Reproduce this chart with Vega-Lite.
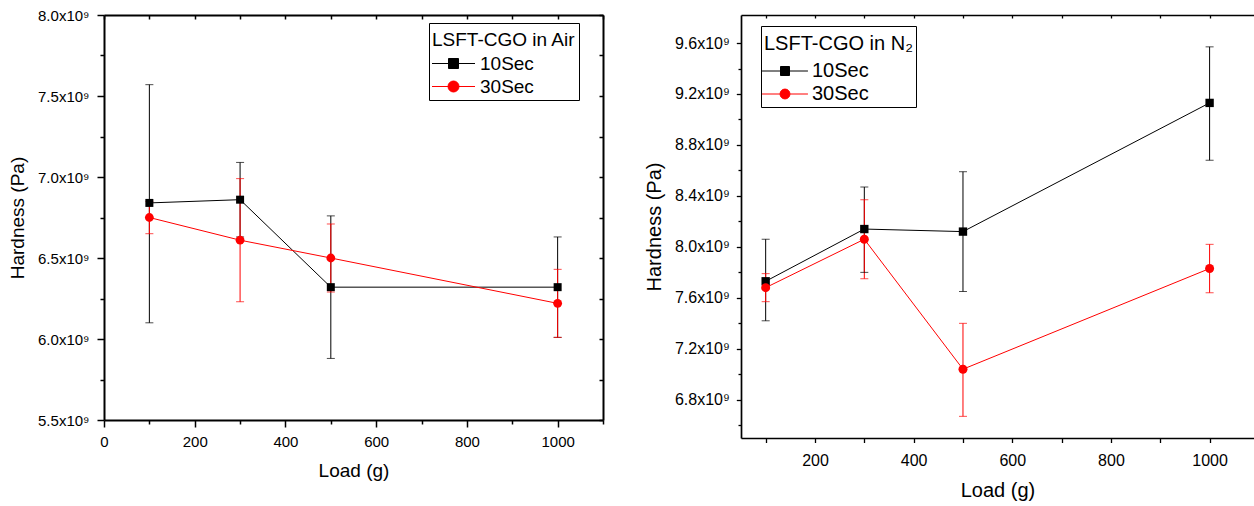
{
  "$schema": "https://vega.github.io/schema/vega-lite/v6.json",
  "background": "white",
  "padding": {"left": 8, "top": 8, "right": 0, "bottom": 0},
  "spacing": 40,
  "config": {
    "font": "Liberation Sans",
    "view": {"stroke": null},
    "axis": {"grid": false, "domainColor": "black", "tickColor": "black", "labelColor": "black", "titleColor": "black", "labelFont": "Liberation Sans", "titleFont": "Liberation Sans", "titleFontWeight": "normal", "labelFlush": false, "labelOverlap": false},
    "legend": {"labelFont": "Liberation Sans", "titleFont": "Liberation Sans", "titleFontWeight": "normal", "labelColor": "black", "titleColor": "black"}
  },
  "datasets": {
    "air": [
      {"load": 100, "series": "10Sec", "h": 6.84e9, "lo": 6.10e9, "hi": 7.57e9},
      {"load": 300, "series": "10Sec", "h": 6.86e9, "lo": 6.63e9, "hi": 7.09e9},
      {"load": 500, "series": "10Sec", "h": 6.32e9, "lo": 5.88e9, "hi": 6.76e9},
      {"load": 1000, "series": "10Sec", "h": 6.32e9, "lo": 6.01e9, "hi": 6.63e9},
      {"load": 100, "series": "30Sec", "h": 6.75e9, "lo": 6.65e9, "hi": 6.85e9},
      {"load": 300, "series": "30Sec", "h": 6.61e9, "lo": 6.23e9, "hi": 6.99e9},
      {"load": 500, "series": "30Sec", "h": 6.50e9, "lo": 6.29e9, "hi": 6.71e9},
      {"load": 1000, "series": "30Sec", "h": 6.22e9, "lo": 6.01e9, "hi": 6.43e9}
    ],
    "n2": [
      {"load": 100, "series": "10Sec", "h": 7.73e9, "lo": 7.42e9, "hi": 8.06e9},
      {"load": 300, "series": "10Sec", "h": 8.14e9, "lo": 7.80e9, "hi": 8.47e9},
      {"load": 500, "series": "10Sec", "h": 8.12e9, "lo": 7.65e9, "hi": 8.59e9},
      {"load": 1000, "series": "10Sec", "h": 9.13e9, "lo": 8.68e9, "hi": 9.57e9},
      {"load": 100, "series": "30Sec", "h": 7.68e9, "lo": 7.57e9, "hi": 7.79e9},
      {"load": 300, "series": "30Sec", "h": 8.06e9, "lo": 7.75e9, "hi": 8.37e9},
      {"load": 500, "series": "30Sec", "h": 7.04e9, "lo": 6.67e9, "hi": 7.40e9},
      {"load": 1000, "series": "30Sec", "h": 7.83e9, "lo": 7.64e9, "hi": 8.02e9}
    ]
  },
  "resolve": {"scale": {"x": "independent", "y": "independent", "color": "independent"}, "legend": {"color": "independent"}},
  "hconcat": [
    {
      "width": 499,
      "height": 405,
      "data": {"name": "air"},
      "layer": [
        {
          "mark": {"type": "rule", "strokeWidth": 1},
          "encoding": {
            "x": {"field": "load", "type": "quantitative", "scale": {"domain": [0, 1100], "nice": false, "zero": false},
              "axis": {"orient": "bottom", "values": [0, 200, 400, 600, 800, 1000], "format": "d", "title": "Load (g)", "titleFontSize": 19, "labelFontSize": 15, "tickSize": 7, "tickWidth": 1.5, "domainWidth": 2, "labelPadding": 7.5, "titlePadding": 12}},
            "y": {"field": "lo", "type": "quantitative", "scale": {"domain": [5.5e9, 8.0e9], "nice": false, "zero": false},
              "axis": {"orient": "left", "values": [5.5e9, 6.0e9, 6.5e9, 7.0e9, 7.5e9, 8.0e9], "labelExpr": "format(datum.value/1e9, '.1f') + 'x10⁹'", "title": "Hardness (Pa)", "titleFontSize": 19, "labelFontSize": 15, "tickSize": 7, "tickWidth": 1.5, "domainWidth": 2, "labelPadding": 8, "titlePadding": 10}},
            "y2": {"field": "hi"},
            "color": {"field": "series", "type": "nominal", "scale": {"domain": ["10Sec", "30Sec"], "range": ["#000000", "#ff0000"]},
              "legend": {"orient": "none", "legendX": 325, "legendY": 8, "title": "LSFT-CGO in Air", "titleFontSize": 19, "labelFontSize": 19, "strokeColor": "black", "fillColor": "white", "padding": 3, "titleBaseline": "line-top", "titleLineHeight": 28, "symbolSize": 100, "symbolStrokeWidth": 1, "symbolOffset": 12, "labelOffset": 17, "rowPadding": 3, "titlePadding": 9,
                "encode": {"symbols": {"update": {
                  "shape": {"signal": "datum.value === '10Sec' ? 'M-4.3,0H-1M1,0H4.3M-1,-1H1V1H-1Z' : 'M-4.3,0H-1.1M1.1,0H4.3M-1.1,0A1.1,1.1 0 1,0 1.1,0A1.1,1.1 0 1,0 -1.1,0Z'"},
                  "fill": {"signal": "datum.value === '10Sec' ? '#000000' : '#ff0000'"},
                  "stroke": {"signal": "datum.value === '10Sec' ? '#000000' : '#ff0000'"},
                  "strokeWidth": {"value": 1},
                  "opacity": {"value": 1}
                }}}}}
          }
        },
        {
          "mark": {"type": "tick", "orient": "horizontal", "size": 8, "thickness": 1},
          "encoding": {
            "x": {"field": "load", "type": "quantitative",
              "axis": {"orient": "top", "values": [0, 100, 200, 300, 400, 500, 600, 700, 800, 900, 1000, 1100], "labels": false, "title": null, "tickSize": -4, "tickWidth": 1.5, "domainWidth": 2}},
            "y": {"field": "lo", "type": "quantitative",
              "axis": {"orient": "right", "values": [5.5e9, 5.75e9, 6.0e9, 6.25e9, 6.5e9, 6.75e9, 7.0e9, 7.25e9, 7.5e9, 7.75e9, 8.0e9], "labels": false, "title": null, "tickSize": -4, "tickWidth": 1.5, "domainWidth": 2}},
            "color": {"field": "series", "type": "nominal", "legend": null}
          }
        },
        {
          "mark": {"type": "tick", "orient": "horizontal", "size": 8, "thickness": 1},
          "encoding": {
            "x": {"field": "load", "type": "quantitative",
              "axis": {"orient": "bottom", "values": [100, 300, 500, 700, 900, 1100], "labels": false, "title": null, "tickSize": 4, "tickWidth": 1.5, "domain": false}},
            "y": {"field": "hi", "type": "quantitative",
              "axis": {"orient": "left", "values": [5.75e9, 6.25e9, 6.75e9, 7.25e9, 7.75e9], "labels": false, "title": null, "tickSize": 4, "tickWidth": 1.5, "domain": false}},
            "color": {"field": "series", "type": "nominal", "legend": null}
          }
        },
        {
          "mark": {"type": "line", "strokeWidth": 1},
          "encoding": {
            "x": {"field": "load", "type": "quantitative", "axis": null},
            "y": {"field": "h", "type": "quantitative", "axis": null},
            "color": {"field": "series", "type": "nominal", "legend": null}
          }
        },
        {
          "transform": [{"filter": "datum.series === '10Sec'"}],
          "mark": {"type": "point", "shape": "square", "filled": true, "opacity": 1, "size": 64},
          "encoding": {
            "x": {"field": "load", "type": "quantitative", "axis": null},
            "y": {"field": "h", "type": "quantitative", "axis": null},
            "color": {"field": "series", "type": "nominal", "legend": null}
          }
        },
        {
          "transform": [{"filter": "datum.series === '30Sec'"}],
          "mark": {"type": "point", "shape": "circle", "filled": true, "opacity": 1, "size": 78},
          "encoding": {
            "x": {"field": "load", "type": "quantitative", "axis": null},
            "y": {"field": "h", "type": "quantitative", "axis": null},
            "color": {"field": "series", "type": "nominal", "legend": null}
          }
        }
      ]
    },
    {
      "width": 513,
      "height": 423,
      "data": {"name": "n2"},
      "layer": [
        {
          "mark": {"type": "rule", "strokeWidth": 1},
          "encoding": {
            "x": {"field": "load", "type": "quantitative", "scale": {"domain": [50, 1090], "nice": false, "zero": false},
              "axis": {"orient": "bottom", "values": [200, 400, 600, 800, 1000], "format": "d", "title": "Load (g)", "titleFontSize": 20, "labelFontSize": 16, "tickSize": 4.5, "tickWidth": 1.3, "domainWidth": 1.7, "labelPadding": 10, "titlePadding": 12}},
            "y": {"field": "lo", "type": "quantitative", "scale": {"domain": [6.5e9, 9.82e9], "nice": false, "zero": false},
              "axis": {"orient": "left", "values": [6.8e9, 7.2e9, 7.6e9, 8.0e9, 8.4e9, 8.8e9, 9.2e9, 9.6e9], "labelExpr": "format(datum.value/1e9, '.1f') + 'x10⁹'", "title": "Hardness (Pa)", "titleFontSize": 20, "labelFontSize": 16, "tickSize": 4.7, "tickWidth": 1.3, "domainWidth": 1.7, "labelPadding": 7, "titlePadding": 10}},
            "y2": {"field": "hi"},
            "color": {"field": "series", "type": "nominal", "scale": {"domain": ["10Sec", "30Sec"], "range": ["#000000", "#ff0000"]},
              "legend": {"orient": "none", "legendX": 20, "legendY": 11, "title": "LSFT-CGO in N₂", "titleFontSize": 20, "labelFontSize": 20, "strokeColor": "black", "fillColor": "white", "padding": 3, "titleBaseline": "line-top", "titleLineHeight": 30, "symbolSize": 81, "symbolStrokeWidth": 1, "symbolOffset": 11, "labelOffset": 17, "rowPadding": 3, "titlePadding": 12,
                "encode": {"symbols": {"update": {
                  "shape": {"signal": "datum.value === '10Sec' ? 'M-5.1,0H-1M1,0H5.1M-1,-1H1V1H-1Z' : 'M-5.1,0H-1.1M1.1,0H5.1M-1.1,0A1.1,1.1 0 1,0 1.1,0A1.1,1.1 0 1,0 -1.1,0Z'"},
                  "fill": {"signal": "datum.value === '10Sec' ? '#000000' : '#ff0000'"},
                  "stroke": {"signal": "datum.value === '10Sec' ? '#000000' : '#ff0000'"},
                  "strokeWidth": {"value": 1},
                  "opacity": {"value": 1}
                }}}}}
          }
        },
        {
          "mark": {"type": "tick", "orient": "horizontal", "size": 8, "thickness": 1},
          "encoding": {
            "x": {"field": "load", "type": "quantitative",
              "axis": {"orient": "top", "values": [100, 200, 300, 400, 500, 600, 700, 800, 900, 1000], "labels": false, "title": null, "tickSize": -3, "tickWidth": 1.3, "domainWidth": 1.7}},
            "y": {"field": "lo", "type": "quantitative",
              "axis": {"orient": "right", "domain": false, "ticks": false, "labels": false, "title": null}},
            "color": {"field": "series", "type": "nominal", "legend": null}
          }
        },
        {
          "mark": {"type": "tick", "orient": "horizontal", "size": 8, "thickness": 1},
          "encoding": {
            "x": {"field": "load", "type": "quantitative",
              "axis": {"orient": "bottom", "values": [100, 300, 500, 700, 900], "labels": false, "title": null, "tickSize": 4.5, "tickWidth": 1.3, "domain": false}},
            "y": {"field": "hi", "type": "quantitative",
              "axis": {"orient": "left", "values": [6.6e9, 7.0e9, 7.4e9, 7.8e9, 8.2e9, 8.6e9, 9.0e9, 9.4e9], "labels": false, "title": null, "tickSize": 3, "tickWidth": 1.3, "domain": false}},
            "color": {"field": "series", "type": "nominal", "legend": null}
          }
        },
        {
          "mark": {"type": "line", "strokeWidth": 1},
          "encoding": {
            "x": {"field": "load", "type": "quantitative", "axis": null},
            "y": {"field": "h", "type": "quantitative", "axis": null},
            "color": {"field": "series", "type": "nominal", "legend": null}
          }
        },
        {
          "transform": [{"filter": "datum.series === '10Sec'"}],
          "mark": {"type": "point", "shape": "square", "filled": true, "opacity": 1, "size": 70},
          "encoding": {
            "x": {"field": "load", "type": "quantitative", "axis": null},
            "y": {"field": "h", "type": "quantitative", "axis": null},
            "color": {"field": "series", "type": "nominal", "legend": null}
          }
        },
        {
          "transform": [{"filter": "datum.series === '30Sec'"}],
          "mark": {"type": "point", "shape": "circle", "filled": true, "opacity": 1, "size": 81},
          "encoding": {
            "x": {"field": "load", "type": "quantitative", "axis": null},
            "y": {"field": "h", "type": "quantitative", "axis": null},
            "color": {"field": "series", "type": "nominal", "legend": null}
          }
        }
      ]
    }
  ]
}
